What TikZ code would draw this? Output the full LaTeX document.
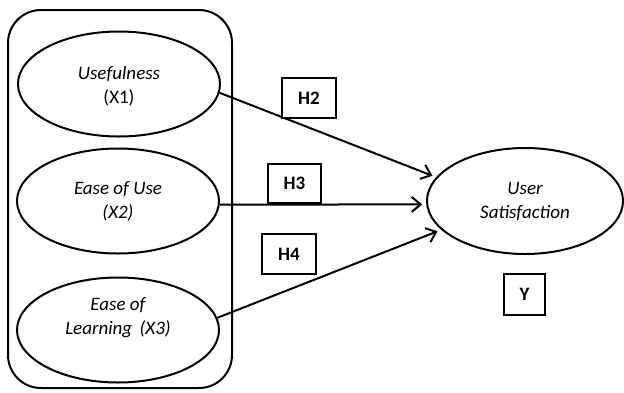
\documentclass[tikz,border=0pt]{standalone}
\usepackage{fontspec}
\setmainfont{Carlito}
\usetikzlibrary{shapes.geometric,arrows.meta}
\begin{document}
\begin{tikzpicture}[x=1pt,y=-1pt,
  every node/.style={font=\fontsize{19}{24}\selectfont},
  var/.style={ellipse,draw,line width=2pt,minimum width=202pt,minimum height=105pt,inner sep=0pt},
  lbl/.style={align=center,font=\fontsize{19}{24}\selectfont\itshape},
  hbox/.style={rectangle,draw,line width=1.4pt,fill=white,inner sep=0pt,font=\fontsize{19}{24}\selectfont\bfseries},
  link/.style={line width=2pt,-{Straight Barb[length=9pt,width=15pt,line width=2pt]},shorten >=4pt}]
\useasboundingbox (0,0) rectangle (624,392);
\node[draw,line width=2pt,rounded corners=33pt,minimum width=224pt,minimum height=378pt,inner sep=0pt] (frame) at (120,199) {};
\node[var] (e1) at (119,84) {};
\node[lbl] (t1) at (119,86) {Usefulness\\\upshape(X1)};
\node[var] (e2) at (118,201) {};
\node[lbl] (t2) at (118,201) {Ease of Use\\(X2)};
\node[var] (e3) at (118,330) {};
\node[lbl] (t3) at (118,318) {Ease of\\Learning\, (X3)};
\node[var,minimum width=196pt,minimum height=106pt] (y) at (525,201) {};
\node[lbl] (ty) at (525,202) {User\\Satisfaction};
\draw[link] (e1.-5) -- (y.165);
\draw[link] (e2.-2) -- (y.182);
\draw[link] (e3.7) -- (y.199);
\node[hbox,minimum width=54pt,minimum height=40pt] (h2) at (309,98) {H2};
\node[hbox,minimum width=53pt,minimum height=39pt] (h3) at (294.5,183.5) {H3};
\node[hbox,minimum width=54pt,minimum height=40pt] (h4) at (289,254) {H4};
\node[hbox,minimum width=41pt,minimum height=41pt] (yb) at (524.5,294.5) {Y};
\end{tikzpicture}
\end{document}
